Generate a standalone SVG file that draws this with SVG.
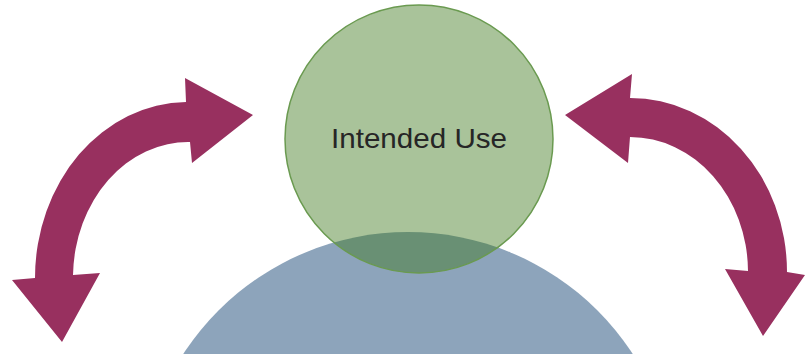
<svg xmlns="http://www.w3.org/2000/svg" width="806" height="354" viewBox="0 0 806 354">
<style>
.arrow{fill:#98305f;}
.label{font-family:"Liberation Sans",Arial,sans-serif;font-size:28px;fill:#262626;}
</style>
<rect width="806" height="354" fill="#ffffff"/>
<g id="base-circle">
<circle cx="408" cy="500" r="268" fill="#8da4bb"/>
</g>
<g id="intended-use">
<circle cx="419" cy="139" r="134" fill="#3c771a" fill-opacity="0.44" stroke="#6a9a50" stroke-width="1.5"/>
<text class="label" x="419" y="148" text-anchor="middle" textLength="176" lengthAdjust="spacingAndGlyphs">Intended Use</text>
</g>
<g id="connectors">
<path class="arrow" d="M 35,278 A 153 176 0 0 1 186,102 L 185,78 L 253,115 L 192,163 L 190,142 A 115 136 0 0 0 73,275 L 100,273 L 62,342 L 12,280 Z"/>
<path class="arrow" d="M 630,98 A 157 174 0 0 1 787,272 L 805,275 L 763,336 L 725,269 L 748,271 A 118 135 0 0 0 630,137 L 628,163 L 565,115 L 632,74 Z"/>
</g>
</svg>
